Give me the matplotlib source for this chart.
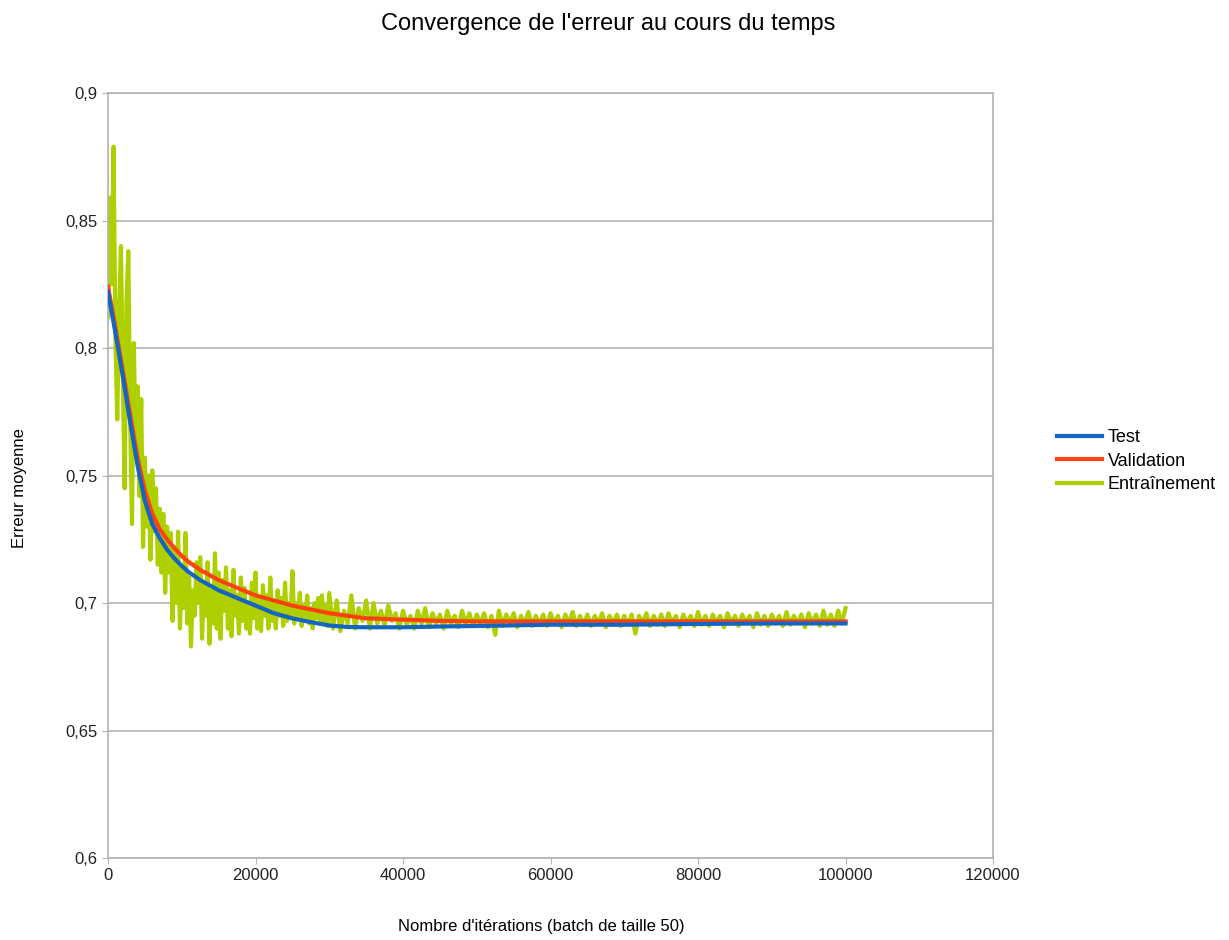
import matplotlib.pyplot as plt
import numpy as np
from matplotlib.ticker import FuncFormatter, MultipleLocator

plt.rcParams['font.family'] = ['Liberation Sans', 'DejaVu Sans']

# smooth curves (test / validation)
curve_x = [0, 1000, 2000, 3000, 4000, 5000, 6000, 7000, 8000, 9000, 10000,
           11000, 12500, 15000, 17500, 20000, 22500, 25000, 27500, 30000,
           32500, 35000, 40000, 45000, 50000, 60000, 70000, 80000, 90000,
           100000]
test_err = [0.822, 0.806, 0.789, 0.771, 0.754, 0.740, 0.731, 0.7255, 0.721,
            0.7175, 0.7145, 0.712, 0.709, 0.705, 0.702, 0.699, 0.696, 0.694,
            0.6925, 0.6912, 0.6906, 0.6905, 0.6905, 0.6908, 0.691, 0.6915,
            0.6915, 0.6918, 0.692, 0.692]
valid_err = [0.824, 0.808, 0.791, 0.774, 0.757, 0.744, 0.735, 0.729, 0.725,
             0.7215, 0.7185, 0.716, 0.713, 0.709, 0.706, 0.703, 0.701, 0.699,
             0.6975, 0.696, 0.695, 0.694, 0.6935, 0.693, 0.6928, 0.6928,
             0.6928, 0.6928, 0.6928, 0.6928]

# noisy training error: every 250 iterations up to 30000, then every 500
train_x = list(range(0, 30001, 250)) + list(range(30500, 100001, 500))
train_err = [
    0.812, 0.859, 0.825, 0.879, 0.804, 0.772, 0.815, 0.840, 0.790, 0.745,
    0.818, 0.838, 0.772, 0.731, 0.802, 0.760, 0.785, 0.742, 0.780, 0.722,
    0.757,
    0.730, 0.750, 0.717, 0.752, 0.728, 0.745, 0.715, 0.737, 0.712, 0.735,
    0.704, 0.730, 0.712, 0.7275, 0.693, 0.722, 0.700, 0.728, 0.690, 0.715,
    0.698, 0.7275, 0.692, 0.710, 0.683, 0.705, 0.695, 0.716, 0.700, 0.718,
    0.686, 0.708, 0.695, 0.716, 0.684, 0.705, 0.692, 0.7195, 0.690, 0.712,
    0.686, 0.709, 0.697, 0.714, 0.690, 0.705, 0.687, 0.713, 0.695, 0.703,
    0.688, 0.710, 0.693, 0.706, 0.690, 0.700, 0.688, 0.708, 0.694, 0.712,
    0.690, 0.702, 0.689, 0.707, 0.695, 0.703, 0.690, 0.710, 0.693, 0.700,
    0.690, 0.705, 0.695, 0.702, 0.691, 0.708, 0.693, 0.700, 0.694, 0.7125,
    0.692, 0.700, 0.694, 0.704, 0.691, 0.699, 0.693, 0.703, 0.692, 0.698,
    0.690, 0.700, 0.694, 0.702, 0.692, 0.703, 0.693, 0.699, 0.691, 0.704,
    # 30500 .. 100000
    0.690, 0.701, 0.689, 0.697, 0.692, 0.703, 0.690, 0.698, 0.693, 0.701,
    0.690, 0.700, 0.692, 0.697, 0.691, 0.699, 0.693, 0.696, 0.690, 0.697,
    0.6915, 0.695, 0.690, 0.697, 0.692, 0.698, 0.6905, 0.696, 0.692, 0.6955,
    0.690, 0.697, 0.692, 0.695, 0.6905, 0.697, 0.692, 0.696, 0.691, 0.6955,
    0.692, 0.696, 0.6905, 0.695, 0.6875, 0.697, 0.691, 0.6955, 0.692, 0.696,
    0.6905, 0.695, 0.692, 0.6965, 0.691, 0.695, 0.6915, 0.6955, 0.691, 0.696,
    0.692, 0.695, 0.6905, 0.6955, 0.692, 0.6965, 0.691, 0.695, 0.6915, 0.6955,
    0.691, 0.695, 0.692, 0.696, 0.6905, 0.695, 0.692, 0.6955, 0.691, 0.695,
    0.6915, 0.6955, 0.688, 0.695, 0.692, 0.696, 0.691, 0.695, 0.6915, 0.6955,
    0.691, 0.696, 0.692, 0.695, 0.6905, 0.6955, 0.692, 0.695, 0.691, 0.6965,
    0.6915, 0.695, 0.691, 0.6955, 0.692, 0.695, 0.6905, 0.696, 0.692, 0.695,
    0.691, 0.6955, 0.692, 0.695, 0.6905, 0.696, 0.6915, 0.695, 0.691, 0.6955,
    0.692, 0.695, 0.691, 0.6965, 0.6915, 0.695, 0.692, 0.6955, 0.6905, 0.696,
    0.692, 0.6955, 0.691, 0.697, 0.6915, 0.6955, 0.691, 0.697, 0.692, 0.698,
]

fig = plt.figure(figsize=(12.29, 9.4), dpi=100)
ax = fig.add_axes([0.0879, 0.0872, 0.7201, 0.8138])

ax.plot(train_x, train_err, color='#aecf00', lw=3, label='Entraînement', zorder=2)
ax.plot(curve_x, valid_err, color='#ff420e', lw=3, label='Validation', zorder=3)
ax.plot(curve_x, test_err, color='#1565c0', lw=3, label='Test', zorder=4)

ax.set_xlim(0, 120000)
ax.set_ylim(0.6, 0.9)
ax.yaxis.set_major_locator(MultipleLocator(0.05))
ax.xaxis.set_major_locator(MultipleLocator(20000))
ax.yaxis.set_major_formatter(FuncFormatter(lambda v, p: ('%g' % round(v, 2)).replace('.', ',')))
ax.xaxis.set_major_formatter(FuncFormatter(lambda v, p: '%d' % v))
ax.grid(axis='y', color='#b3b3b3', lw=1.2)
ax.set_axisbelow(True)
for s in ax.spines.values():
    s.set_color('#b3b3b3')
    s.set_linewidth(1.2)
ax.tick_params(colors='#b3b3b3', labelcolor='#222222', labelsize=12, length=4)

fig.text(0.495, 1 - 24 / 940, "Convergence de l'erreur au cours du temps",
         fontsize=17, ha='center', va='center')
fig.text(541 / 1229, 1 - 927 / 940, "Nombre d'itérations (batch de taille 50)",
         fontsize=12, ha='center', va='center')
fig.text(20 / 1229, 1 - 488 / 940, "Erreur moyenne", fontsize=12,
         rotation=90, ha='center', va='center')

h, l = ax.get_legend_handles_labels()
order = [2, 1, 0]
fig.legend([h[i] for i in order], [l[i] for i in order], loc='center left',
           bbox_to_anchor=(1057 / 1229, 1 - 461 / 940), frameon=False, fontsize=13,
           handlelength=2.5, labelspacing=0.35, handletextpad=0.3,
           borderpad=0, borderaxespad=0)

fig.savefig('out.png', dpi=100)
